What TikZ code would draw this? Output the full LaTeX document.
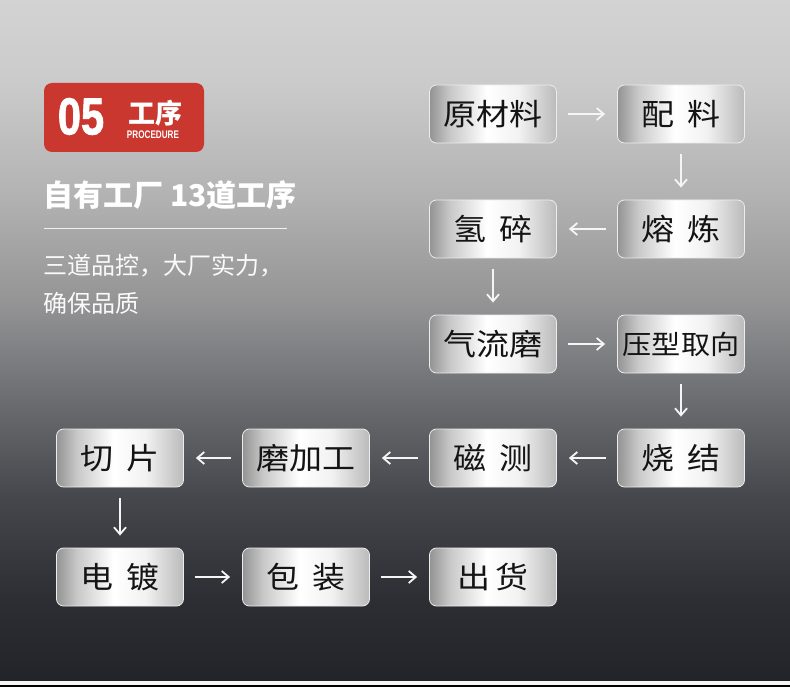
\documentclass[tikz,border=0pt]{standalone}
\usepackage{fontspec}
\usepackage{graphicx}
\usetikzlibrary{arrows.meta}
\newfontfamily\cjk{Noto Sans CJK SC}
\newfontfamily\boxfont{Noto Sans CJK SC}[FakeStretch=1.1]
\newfontfamily\numfont{Liberation Sans}
\newfontfamily\heavyfont{Liberation Sans Bold}[FakeBold=1.6]
\newcommand\boxgap{\hspace{0.42em}}
\definecolor{badgered}{HTML}{C9372F}
\definecolor{bgA}{HTML}{222429}
\definecolor{bgB}{HTML}{2C2E33}
\definecolor{bgC}{HTML}{45474C}
\definecolor{bgD}{HTML}{6A6C70}
\definecolor{bgE}{HTML}{959596}
\definecolor{bgF}{HTML}{B2B2B2}
\definecolor{bgG}{HTML}{CBCBCB}
\definecolor{bgH}{HTML}{D3D3D3}
\definecolor{mtA}{HTML}{939393}
\definecolor{mtB}{HTML}{C8C8C8}
\definecolor{mtC}{HTML}{F2F2F2}
\definecolor{mtD}{HTML}{BABABA}
\pgfdeclareverticalshading{bgfade}{100bp}{color(0bp)=(bgA); color(25bp)=(bgA); color(31bp)=(bgB); color(38.5bp)=(bgC); color(45.5bp)=(bgD); color(53bp)=(bgE); color(60.5bp)=(bgF); color(69bp)=(bgG); color(75bp)=(bgH); color(100bp)=(bgH)}
\pgfdeclarehorizontalshading{metal}{100bp}{color(0bp)=(mtA); color(25bp)=(mtA); color(33bp)=(mtB); color(47.5bp)=(white); color(60bp)=(mtC); color(75bp)=(mtD); color(100bp)=(mtD)}
\tikzset{
  stepbox/.style={rounded corners=7pt, shading=metal, draw=white!85!gray, line width=0.8pt,
    minimum width=127pt, minimum height=58pt, inner sep=0pt,
    font=\boxfont\fontsize{30}{30}\selectfont, text=black!92},
  flow/.style={draw=white!92!gray, line width=1.8pt, -{Straight Barb[length=7pt,width=12pt]},
    shorten <=11pt, shorten >=12pt},
  badge/.style={fill=badgered, rounded corners=8pt, minimum width=160pt, minimum height=69pt},
  lefttext/.style={anchor=west, inner sep=0pt, text=white!96!gray}
}
\begin{document}
\begin{tikzpicture}[x=1pt,y=-1pt]
    \useasboundingbox (0,0) rectangle (790,687);
    \shade[shading=bgfade] (0,0) rectangle (790,681);
    \fill[white!92!gray] (0,681) rectangle (790,684.5);
    \fill[black] (0,684.5) rectangle (790,687);
    %badge
    \node[badge] (badge) at (124,117.5) {};
    \node[text=white, font=\heavyfont\fontsize{52}{52}\selectfont, inner sep=0pt] (num) at (81,116.5) {\scalebox{0.8}[1]{05}};
    \node[text=white, font=\cjk\bfseries\fontsize{27}{27}\selectfont, inner sep=0pt] (badgetitle) at (155,113) {工序};
    \node[text=white, font=\numfont\bfseries\fontsize{11}{11}\selectfont, inner sep=0pt] (badgesub) at (153,135) {\scalebox{0.74}[1]{PROCEDURE}};
    \node[lefttext, text=white, font=\cjk\bfseries\fontsize{30}{30}\selectfont] (title) at (43,195) {自有工厂 13道工序};
    \draw[white!88!gray, line width=1pt] (44,229) -- (287,229);
    \node[lefttext, font=\cjk\fontsize{24}{24}\selectfont] (sub1) at (43,266) {三道品控，大厂实力，};
    \node[lefttext, font=\cjk\fontsize{24}{24}\selectfont] (sub2) at (43,303) {确保品质};
    %steps
    \foreach \x/\y/\t [count=\i from 1] in {493/114/原材料, 681/114/配\boxgap 料, 681/229/熔\boxgap 炼, 493/229/氢\boxgap 碎,
      493/344/气流磨, 681/344/{\fontsize{26.5}{26.5}\selectfont 压型取向}, 681/458/烧\boxgap 结, 493/458/磁\boxgap 测,
      306/458/磨加工, 120/458/切\boxgap 片, 120/577/电\boxgap 镀, 306/577/包\boxgap 装, 493/577/出\,货}
      {\node[stepbox] (s\i) at (\x,\y) {\t};}
    \foreach \a [count=\b from 2] in {1,...,12} {\draw[flow] (s\a) -- (s\b);}
  \end{tikzpicture}
\end{document}
